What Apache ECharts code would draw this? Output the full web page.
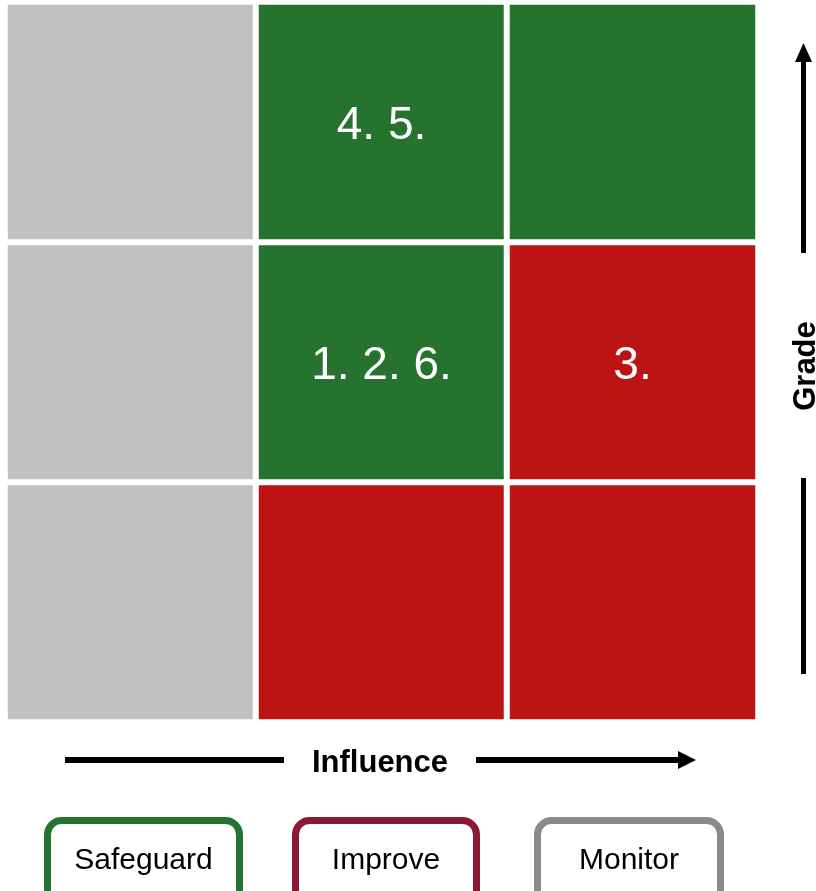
<!DOCTYPE html>
<html>
<head>
<meta charset="utf-8">
<script src="https://cdn.jsdelivr.net/npm/echarts@6/dist/echarts.min.js"></script>
<style>
  html, body { margin: 0; padding: 0; background: #ffffff; }
  #chart { width: 816px; height: 891px; }
</style>
</head>
<body>
<div id="chart"></div>
<script>
// Influence (columns, low -> high) and grade (rows, low -> high)
const influenceLevels = ['Low', 'Medium', 'High'];
const gradeLevels = ['Low', 'Medium', 'High'];

// Action assigned to each cell: [influenceIndex, gradeIndex, action]
const cellActions = [
  [0, 0, 'Monitor'], [1, 0, 'Improve'],   [2, 0, 'Improve'],
  [0, 1, 'Monitor'], [1, 1, 'Safeguard'], [2, 1, 'Improve'],
  [0, 2, 'Monitor'], [1, 2, 'Safeguard'], [2, 2, 'Safeguard']
];

// Numbered items placed in cells: [influenceIndex, gradeIndex, text]
const cellItems = [
  [1, 2, '4. 5.'],
  [1, 1, '1. 2. 6.'],
  [2, 1, '3.']
];

const legendActions = ['Safeguard', 'Improve', 'Monitor'];

const fillColors = { Safeguard: '#26732F', Improve: '#BC1313', Monitor: '#C0C0C0' };
const borderColors = { Safeguard: '#26732F', Improve: '#8D1834', Monitor: '#8A8A8A' };

function itemText(x, y) {
  const hit = cellItems.find(c => c[0] === x && c[1] === y);
  return hit ? hit[2] : '';
}

const heatData = cellActions.map(([x, y, action]) => ({
  value: [x, y, legendActions.indexOf(action)],
  itemStyle: { color: fillColors[action] },
  label: { formatter: itemText(x, y) }
}));

const chart = echarts.init(document.getElementById('chart'));

const fontFamily = 'Liberation Sans, Arial, sans-serif';
const legendX = [44, 292, 534];
const legendW = [199, 188, 190];

const legendGraphics = [];
legendActions.forEach((name, i) => {
  legendGraphics.push({
    type: 'rect',
    shape: { x: legendX[i] + 3.5, y: 820.5, width: legendW[i] - 7, height: 90, r: 14 },
    style: { fill: '#ffffff', stroke: borderColors[name], lineWidth: 7 }
  });
  legendGraphics.push({
    type: 'text',
    x: legendX[i] + legendW[i] / 2,
    y: 861,
    style: {
      text: name, fill: '#000000', font: '30px ' + fontFamily,
      textAlign: 'center', textVerticalAlign: 'middle'
    }
  });
});

const arrowGraphics = [
  // Influence axis arrow
  { type: 'line', shape: { x1: 65, y1: 760, x2: 284, y2: 760 }, style: { stroke: '#000', lineWidth: 6 } },
  { type: 'line', shape: { x1: 476, y1: 760, x2: 680, y2: 760 }, style: { stroke: '#000', lineWidth: 6 } },
  { type: 'polygon', shape: { points: [[678, 751], [696, 760], [678, 769]] }, style: { fill: '#000' } },
  {
    type: 'text', x: 380, y: 763,
    style: { text: 'Influence', fill: '#000', font: 'bold 31px ' + fontFamily, textAlign: 'center', textVerticalAlign: 'middle' }
  },
  // Grade axis arrow
  { type: 'line', shape: { x1: 803.5, y1: 60, x2: 803.5, y2: 253 }, style: { stroke: '#000', lineWidth: 5 } },
  { type: 'line', shape: { x1: 803.5, y1: 478, x2: 803.5, y2: 674 }, style: { stroke: '#000', lineWidth: 5 } },
  { type: 'polygon', shape: { points: [[795, 62], [803.5, 43], [812, 62]] }, style: { fill: '#000' } },
  {
    type: 'text', x: 806, y: 366, rotation: Math.PI / 2,
    style: { text: 'Grade', fill: '#000', font: 'bold 31px ' + fontFamily, textAlign: 'center', textVerticalAlign: 'middle' }
  }
];

chart.setOption({
  animation: false,
  backgroundColor: '#ffffff',
  grid: { left: 5, right: 58, top: 2, bottom: 169 },
  xAxis: {
    type: 'category', data: influenceLevels,
    axisLine: { show: false }, axisTick: { show: false }, axisLabel: { show: false },
    splitLine: { show: false }
  },
  yAxis: {
    type: 'category', data: gradeLevels,
    axisLine: { show: false }, axisTick: { show: false }, axisLabel: { show: false },
    splitLine: { show: false }
  },
  series: [{
    type: 'heatmap',
    data: heatData,
    itemStyle: { borderColor: '#ffffff', borderWidth: 6 },
    label: {
      show: true, color: '#ffffff', fontSize: 46, fontFamily: fontFamily,
      offset: [0, 4]
    },
    emphasis: { disabled: true }
  }],
  graphic: arrowGraphics.concat(legendGraphics)
});
</script>
</body>
</html>
